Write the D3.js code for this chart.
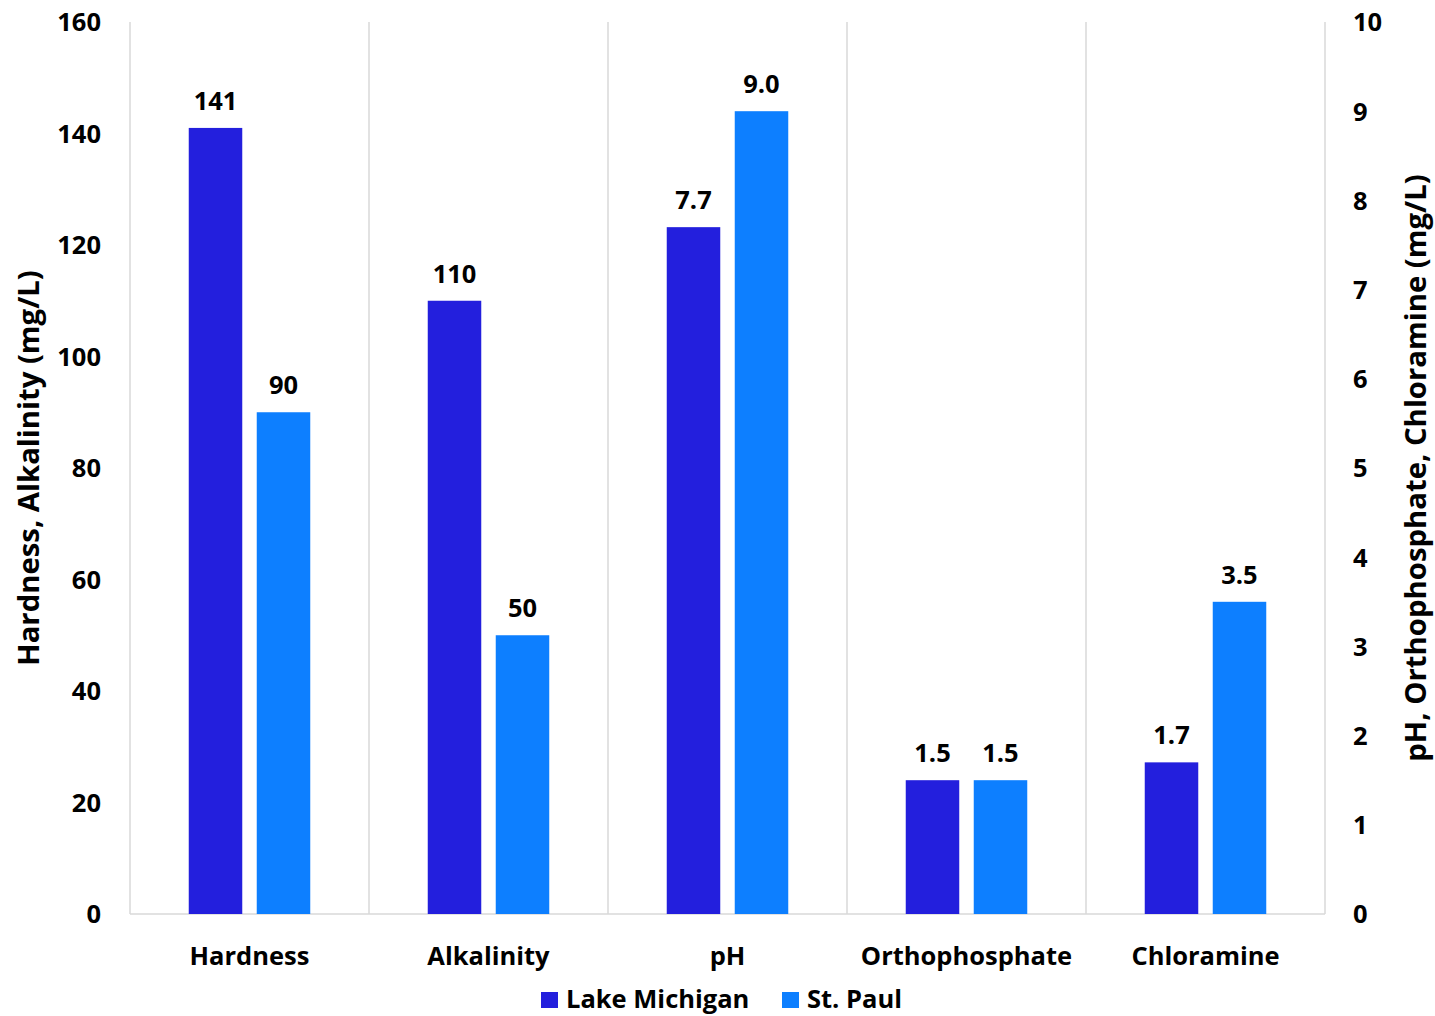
<!DOCTYPE html>
<html>
<head>
<meta charset="utf-8">
<script src="https://cdn.jsdelivr.net/npm/d3@7"></script>
<style>
  html, body { margin: 0; padding: 0; background: #fff; }
  svg text { font-family: "Open Sans", Lato, sans-serif; font-weight: 700; fill: #000; }
</style>
</head>
<body>
<svg id="chart" width="1435" height="1016"></svg>
<script>
// Water quality parameters, Lake Michigan vs. St. Paul
const categories = ["Hardness", "Alkalinity", "pH", "Orthophosphate", "Chloramine"];
// which y axis each parameter is read against
const axisOf = ["left", "left", "right", "right", "right"];
const lakeMichigan = [141, 110, 7.7, 1.5, 1.7];
const stPaul = [90, 50, 9.0, 1.5, 3.5];
const seriesNames = ["Lake Michigan", "St. Paul"];
const seriesColors = ["#231FDD", "#0D7FFF"];
const leftTicks = [0, 20, 40, 60, 80, 100, 120, 140, 160];
const rightTicks = [0, 1, 2, 3, 4, 5, 6, 7, 8, 9, 10];
const leftTitle = "Hardness, Alkalinity (mg/L)";
const rightTitle = "pH, Orthophosphate, Chloramine (mg/L)";

const FS = 25.5;      // tick, category, value and legend text
const FS_TITLE = 29.3;

const svg = d3.select("#chart");
const plot = { left: 130, right: 1325, top: 22, bottom: 914 };

const x = d3.scaleBand().domain(categories).range([plot.left, plot.right]).padding(0);
const xInner = d3.scaleBand().domain(seriesNames).range([0, x.bandwidth()])
  .paddingInner(0.213).paddingOuter(0.864);
const yLeft = d3.scaleLinear().domain([0, 160]).range([plot.bottom, plot.top]);
const yRight = d3.scaleLinear().domain([0, 10]).range([plot.bottom, plot.top]);

// category separator gridlines
svg.append("g").selectAll("line")
  .data(d3.range(categories.length + 1))
  .join("line")
  .attr("x1", i => plot.left + i * x.bandwidth())
  .attr("x2", i => plot.left + i * x.bandwidth())
  .attr("y1", plot.top).attr("y2", plot.bottom)
  .attr("stroke", "#d9d9d9").attr("stroke-width", 1.5);

// baseline
svg.append("line")
  .attr("x1", plot.left).attr("x2", plot.right)
  .attr("y1", plot.bottom).attr("y2", plot.bottom)
  .attr("stroke", "#d9d9d9").attr("stroke-width", 1.5);

// bars
const rows = [];
categories.forEach((c, i) => {
  const yS = axisOf[i] === "left" ? yLeft : yRight;
  const fmt = axisOf[i] === "left" ? d3.format("d") : d3.format(".1f");
  [lakeMichigan[i], stPaul[i]].forEach((v, k) => {
    rows.push({ cat: c, series: seriesNames[k], color: seriesColors[k], value: v, y: yS, fmt });
  });
});

const barG = svg.append("g");
barG.selectAll("rect").data(rows).join("rect")
  .attr("x", d => x(d.cat) + xInner(d.series))
  .attr("width", xInner.bandwidth())
  .attr("y", d => d.y(d.value))
  .attr("height", d => plot.bottom - d.y(d.value))
  .attr("fill", d => d.color);

barG.selectAll("text").data(rows).join("text")
  .attr("x", d => x(d.cat) + xInner(d.series) + xInner.bandwidth() / 2)
  .attr("y", d => d.y(d.value) - 18)
  .attr("text-anchor", "middle")
  .attr("font-size", FS)
  .text(d => d.fmt(d.value));

// left axis
const leftAxis = d3.axisLeft(yLeft).tickValues(leftTicks).tickSize(0).tickPadding(0);
const gl = svg.append("g").attr("transform", `translate(101,0)`).call(leftAxis);
gl.select(".domain").remove();
gl.selectAll("text").attr("font-size", FS).attr("dy", "0.35em").attr("font-family", null);

// right axis
const rightAxis = d3.axisRight(yRight).tickValues(rightTicks).tickSize(0).tickPadding(0);
const gr = svg.append("g").attr("transform", `translate(1353,0)`).call(rightAxis);
gr.select(".domain").remove();
gr.selectAll("text").attr("font-size", FS).attr("dy", "0.35em").attr("font-family", null);

// category labels
svg.append("g").selectAll("text").data(categories).join("text")
  .attr("x", d => x(d) + x.bandwidth() / 2)
  .attr("y", 965)
  .attr("text-anchor", "middle")
  .attr("font-size", FS)
  .text(d => d);

// axis titles
svg.append("text")
  .attr("transform", "translate(39,468) rotate(-90)")
  .attr("text-anchor", "middle")
  .attr("font-size", FS_TITLE)
  .text(leftTitle);
svg.append("text")
  .attr("transform", "translate(1426,468) rotate(-90)")
  .attr("text-anchor", "middle")
  .attr("font-size", FS_TITLE)
  .text(rightTitle);

// legend
const legendX = [541, 782];
const lg = svg.append("g").selectAll("g").data(seriesNames).join("g")
  .attr("transform", (d, i) => `translate(${legendX[i]},992)`);
lg.append("rect").attr("width", 17).attr("height", 16).attr("fill", (d, i) => seriesColors[i]);
lg.append("text").attr("x", 25).attr("y", 16).attr("font-size", FS).text(d => d);
</script>
</body>
</html>
